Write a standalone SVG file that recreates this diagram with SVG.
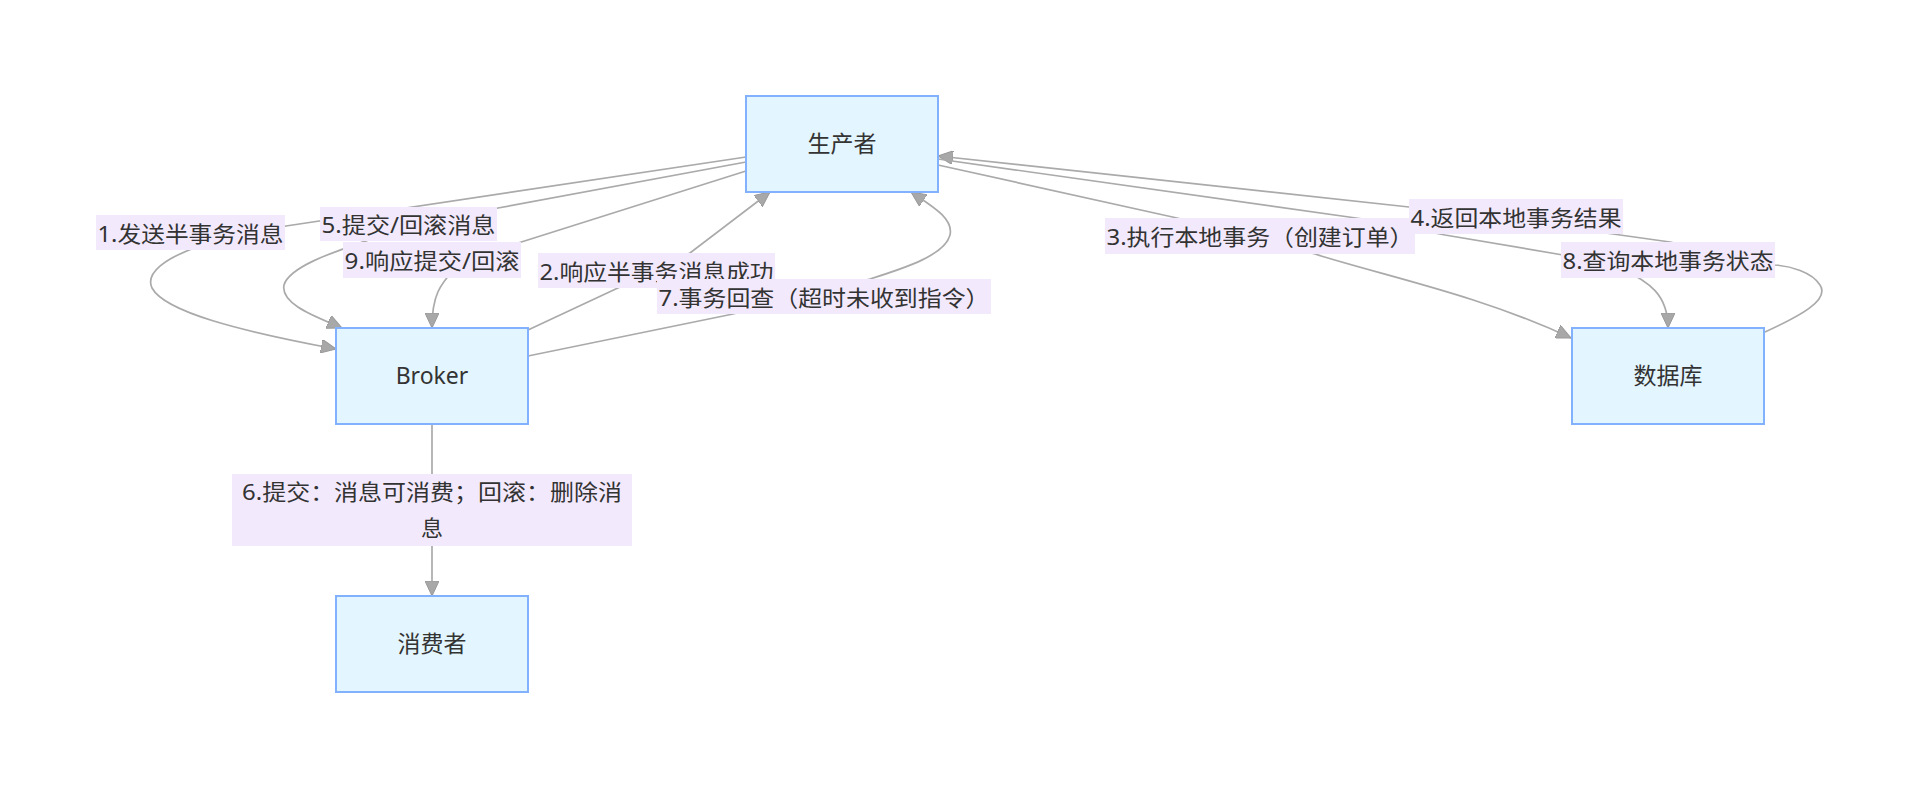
<svg xmlns="http://www.w3.org/2000/svg" width="1918" height="788" viewBox="0 0 1918 788">
<style>
.node rect{fill:#E3F5FE;stroke:#82B1FF;stroke-width:2}
.node text{font-family:"Noto Sans","Noto Sans CJK SC",sans-serif;font-size:23px;fill:#333;text-anchor:middle;dominant-baseline:central}
.edge{fill:none;stroke:#AAAAAA;stroke-width:1.7;marker-end:url(#arrow)}
.lbl rect{fill:#F2EAFC}
.lbl text{font-family:"Noto Sans","Noto Sans CJK SC",sans-serif;font-size:22px;fill:#333;text-anchor:middle;dominant-baseline:central}
</style>
<defs>
<marker id="arrow" viewBox="0 0 15 14" refX="15" refY="7" markerWidth="15" markerHeight="14" markerUnits="userSpaceOnUse" orient="auto">
<path d="M0,0 L15,7 L0,14 z" fill="#A8A8A8" stroke="#999" stroke-width="1"/>
</marker>
</defs>
<rect width="1918" height="788" fill="#fff"/>
<g id="edges">
<path class="edge" d="M746,157 L286,226 L200,246 C165,258 145,273 152,288 C165,312 240,331 336,349"/>
<path class="edge" d="M746,162 L498,208 L380,236 C340,250 290,265 284,285 C280,305 320,318 342,328"/>
<path class="edge" d="M746,171 L515,244 L455,268 C440,285 432,295 432,328"/>
<path class="edge" d="M528,330 L620,287 L690,253 L770,192"/>
<path class="edge" d="M528,356 L733,314 L870,279 C905,268 945,255 950,235 C954,218 930,205 911,192"/>
<path class="edge" d="M938,165 L1177,218 L1315,254 C1380,275 1480,295 1571,338"/>
<path class="edge" d="M1765,332 C1800,316 1830,300 1820,285 C1812,272 1790,266 1775,265 L1670,242 L1613,234 L1409,207 L938,156"/>
<path class="edge" d="M938,159 L1363,219 L1445,235 L1563,255 L1620,268 C1650,282 1668,295 1668,328"/>
<path class="edge" d="M432,424 L432,596"/>
</g>
<g id="edge-labels">
<g class="lbl" id="label-1"><rect x="96" y="215" width="189" height="35"/><text x="190.5" y="232.5" textLength="186" lengthAdjust="spacingAndGlyphs">1.发送半事务消息</text></g>
<g class="lbl" id="label-5"><rect x="320" y="207" width="177" height="34"/><text x="408.5" y="224" textLength="174" lengthAdjust="spacingAndGlyphs">5.提交/回滚消息</text></g>
<g class="lbl" id="label-9"><rect x="343" y="242" width="178" height="36"/><text x="432" y="260" textLength="175" lengthAdjust="spacingAndGlyphs">9.响应提交/回滚</text></g>
<g class="lbl" id="label-2"><rect x="538" y="253" width="237" height="35"/><text x="656.5" y="270.5" textLength="234" lengthAdjust="spacingAndGlyphs">2.响应半事务消息成功</text></g>
<g class="lbl" id="label-7"><rect x="657" y="279" width="334" height="35"/><text x="824" y="296.5" textLength="331" lengthAdjust="spacingAndGlyphs">7.事务回查（超时未收到指令）</text></g>
<g class="lbl" id="label-3"><rect x="1105" y="218" width="310" height="36"/><text x="1260" y="236" textLength="307" lengthAdjust="spacingAndGlyphs">3.执行本地事务（创建订单）</text></g>
<g class="lbl" id="label-4"><rect x="1409" y="199" width="214" height="35"/><text x="1516" y="216.5" textLength="211" lengthAdjust="spacingAndGlyphs">4.返回本地事务结果</text></g>
<g class="lbl" id="label-8"><rect x="1561" y="242" width="214" height="36"/><text x="1668" y="260" textLength="211" lengthAdjust="spacingAndGlyphs">8.查询本地事务状态</text></g>
<g class="lbl" id="label-6"><rect x="232" y="474" width="400" height="72"/><text x="432" y="491" textLength="380" lengthAdjust="spacingAndGlyphs">6.提交：消息可消费；回滚：删除消</text><text x="432" y="527">息</text></g>
</g>
<g class="node" id="node-producer"><rect x="746" y="96" width="192" height="96"/><text x="842" y="143">生产者</text></g>
<g class="node" id="node-broker"><rect x="336" y="328" width="192" height="96"/><text x="432" y="375">Broker</text></g>
<g class="node" id="node-db"><rect x="1572" y="328" width="192" height="96"/><text x="1668" y="375">数据库</text></g>
<g class="node" id="node-consumer"><rect x="336" y="596" width="192" height="96"/><text x="432" y="643">消费者</text></g>
</svg>
